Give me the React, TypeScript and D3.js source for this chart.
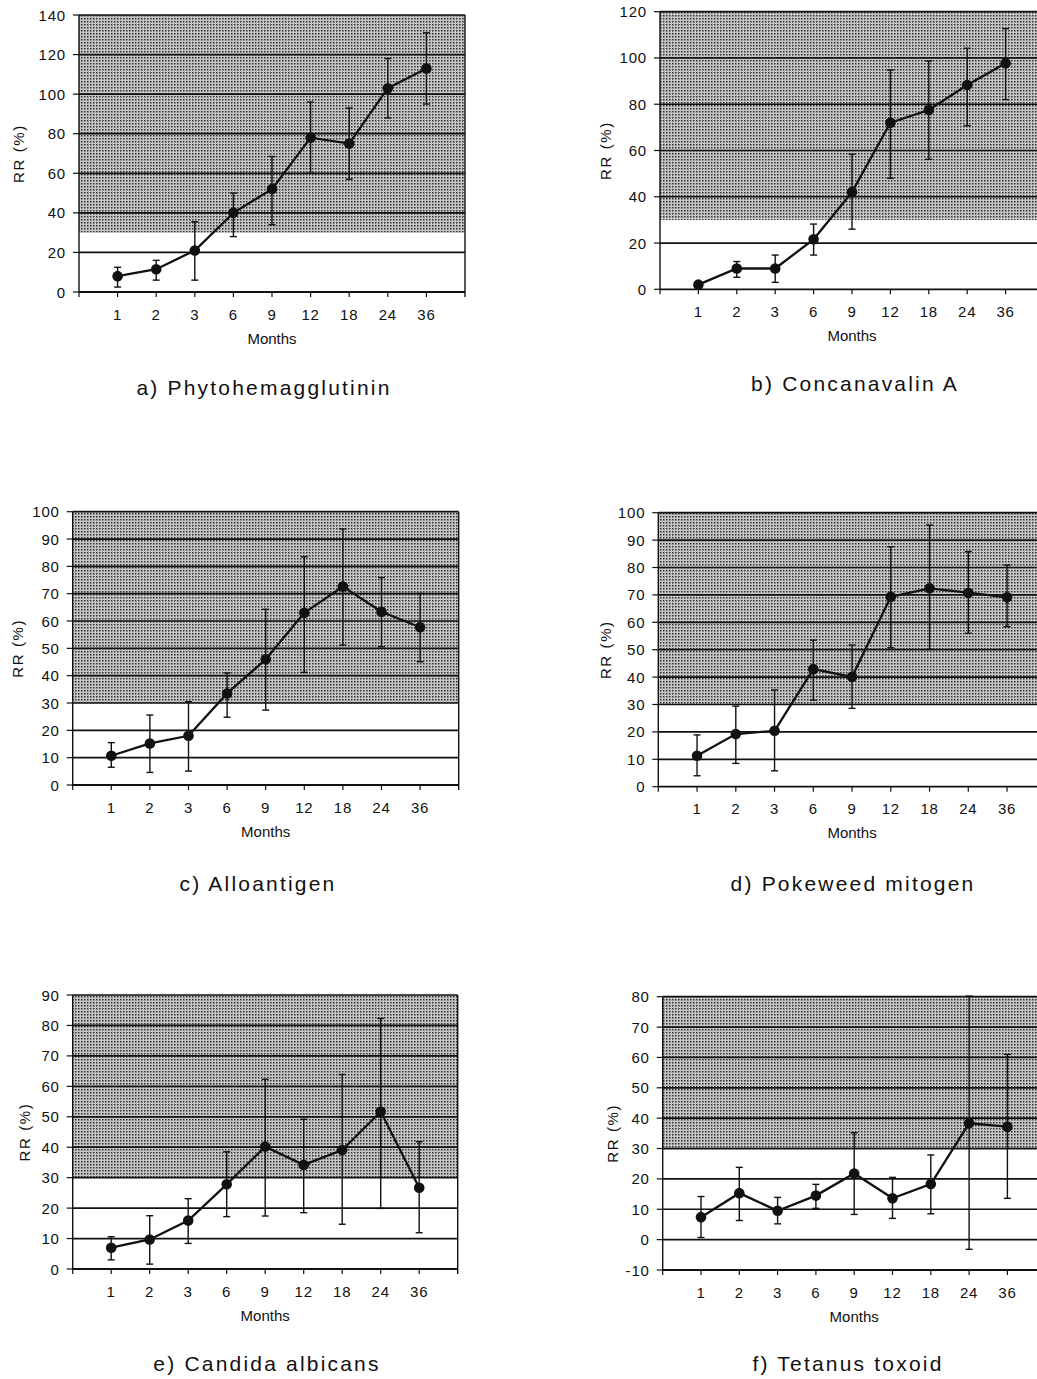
import * as d3 from 'd3';

// months after transplantation (x categories)
const months = ['1', '2', '3', '6', '9', '12', '18', '24', '36'];

// a) Phytohemagglutinin
const phaMean = [8, 11.5, 21, 40, 52, 78, 75, 103, 113];
const phaLow = [2.5, 6, 6, 28, 34, 60, 57, 88, 95];
const phaHigh = [12.5, 16, 35.5, 50, 68.5, 96, 93, 118, 131];
const phaTicks = [0, 20, 40, 60, 80, 100, 120, 140];

// b) Concanavalin A
const conMean = [2, 9, 9, 21.6, 42, 72, 77.5, 88.3, 97.7];
const conLow = [1, 5.2, 3, 14.8, 26, 48, 56.2, 70.7, 82];
const conHigh = [3, 12, 14.8, 28.2, 58.4, 94.8, 98.7, 104.2, 112.7];
const conTicks = [0, 20, 40, 60, 80, 100, 120];

// c) Alloantigen
const alloMean = [10.7, 15.2, 18, 33.5, 46, 63, 72.6, 63.4, 57.7];
const alloLow = [6.5, 4.6, 5.1, 24.8, 27.4, 41.2, 51.2, 50.6, 45.1];
const alloHigh = [15.5, 25.6, 30.5, 41, 64.3, 83.5, 93.7, 75.9, 70.1];
const alloTicks = [0, 10, 20, 30, 40, 50, 60, 70, 80, 90, 100];

// d) Pokeweed mitogen
const pwmMean = [11.3, 19.2, 20.4, 42.9, 40.1, 69.3, 72.4, 70.8, 69.1];
const pwmLow = [4, 8.5, 5.8, 31.6, 28.6, 50.7, 50.1, 56, 58.4];
const pwmHigh = [18.9, 29.4, 35.3, 53.5, 51.7, 87.6, 95.5, 85.8, 80.9];
const pwmTicks = [0, 10, 20, 30, 40, 50, 60, 70, 80, 90, 100];

// e) Candida albicans
const candMean = [7, 9.7, 15.9, 27.8, 40.2, 34.2, 39.1, 51.7, 26.7];
const candLow = [3, 1.6, 8.4, 17.2, 17.4, 18.5, 14.7, 19.9, 11.9];
const candHigh = [10.6, 17.5, 23.1, 38.5, 62.3, 49.2, 63.9, 82.3, 41.8];
const candTicks = [0, 10, 20, 30, 40, 50, 60, 70, 80, 90];

// f) Tetanus toxoid
const tetMean = [7.4, 15.3, 9.5, 14.5, 21.8, 13.6, 18.3, 38.3, 37.2];
const tetLow = [0.7, 6.3, 5.2, 10.3, 8.3, 7, 8.5, -3.2, 13.6];
const tetHigh = [14.2, 23.8, 13.9, 18.2, 35.2, 20.5, 27.9, 80.2, 61];
const tetTicks = [-10, 0, 10, 20, 30, 40, 50, 60, 70, 80];

const SHADE_FROM = 30;
const FONT = '"Liberation Sans", Arial, Helvetica, sans-serif';

type PanelProps = {
  left: number; top: number; bottom: number; step: number;
  ticks: number[]; mean: number[]; low: number[]; high: number[];
  title: string; titleX: number; titleY: number; labelOff: number;
};

function Panel(p: PanelProps) {
  const right = p.left + p.step * 10;
  const x = d3.scalePoint<string>().domain(months).range([p.left, right]).padding(1);
  const y = d3.scaleLinear()
    .domain([p.ticks[0], p.ticks[p.ticks.length - 1]])
    .range([p.bottom, p.top]);
  const line = d3.line<number>()
    .x((d, i) => x(months[i])!)
    .y((d) => y(d));
  const midX = p.left + p.step * 5;
  const midY = (p.top + p.bottom) / 2;

  return (
    <g>
      {/* shaded normal range */}
      <rect x={p.left} y={p.top} width={right - p.left} height={y(SHADE_FROM) - p.top}
        fill="url(#stipple)" />
      {/* grid lines */}
      {p.ticks.slice(1).map((t) => (
        <line key={t} x1={p.left} x2={right} y1={y(t)} y2={y(t)} stroke="#111" strokeWidth={1.7} />
      ))}
      {/* axes & frame */}
      <line x1={p.left} x2={right} y1={p.bottom} y2={p.bottom} stroke="#111" strokeWidth={1.8} />
      <line x1={p.left} x2={p.left} y1={p.top} y2={p.bottom} stroke="#111" strokeWidth={1.4} />
      <line x1={right} x2={right} y1={p.top} y2={p.bottom + 5} stroke="#111" strokeWidth={1.4} />
      {p.ticks.map((t) => (
        <g key={'yt' + t}>
          <line x1={p.left - 6} x2={p.left} y1={y(t)} y2={y(t)} stroke="#111" strokeWidth={1.2} />
          <text x={p.left - 13} y={y(t)} textAnchor="end" dominantBaseline="central"
            fontSize={15} letterSpacing={0.8} fontFamily={FONT} fill="#111">{t}</text>
        </g>
      ))}
      <line x1={p.left} x2={p.left} y1={p.bottom} y2={p.bottom + 5} stroke="#111" strokeWidth={1.2} />
      {months.map((m) => (
        <g key={'xt' + m}>
          <line x1={x(m)} x2={x(m)} y1={p.bottom} y2={p.bottom + 5} stroke="#111" strokeWidth={1.2} />
          <text x={x(m)} y={p.bottom + 22} textAnchor="middle" dominantBaseline="central"
            fontSize={15} letterSpacing={0.8} fontFamily={FONT} fill="#111">{m}</text>
        </g>
      ))}
      <text x={midX} y={p.bottom + 46} textAnchor="middle" dominantBaseline="central"
        fontSize={15} fontFamily={FONT} fill="#111">Months</text>
      <text transform={`translate(${p.left + p.labelOff},${midY}) rotate(-90)`} textAnchor="middle"
        dominantBaseline="central" fontSize={15} letterSpacing={1.6} fontFamily={FONT} fill="#111">RR (%)</text>
      {/* error bars */}
      {months.map((m, i) => (
        <g key={'eb' + m} stroke="#111" strokeWidth={1.4}>
          <line x1={x(m)} x2={x(m)} y1={y(p.low[i])} y2={y(p.high[i])} />
          <line x1={x(m)! - 3.5} x2={x(m)! + 3.5} y1={y(p.low[i])} y2={y(p.low[i])} />
          <line x1={x(m)! - 3.5} x2={x(m)! + 3.5} y1={y(p.high[i])} y2={y(p.high[i])} />
        </g>
      ))}
      <path d={line(p.mean)!} fill="none" stroke="#111" strokeWidth={2.3} />
      {p.mean.map((v, i) => (
        <circle key={'pt' + i} cx={x(months[i])} cy={y(v)} r={5.3} fill="#111" />
      ))}
      <text x={p.titleX} y={p.titleY} textAnchor="middle" dominantBaseline="central"
        fontSize={21} letterSpacing={2.2} fontFamily={FONT} fill="#111">{p.title}</text>
    </g>
  );
}

export default function App() {
  return (
    <svg width={1037} height={1379} style={{ display: 'block', position: 'absolute', left: 0, top: 0 }}>
      <defs>
        <pattern id="stipple" width={3} height={3} patternUnits="userSpaceOnUse">
          <rect width={3} height={3} fill="#c6c6c6" />
          <rect width={1.5} height={1.5} fill="#2e2e2e" />
        </pattern>
      </defs>
      <rect width={1037} height={1379} fill="#fff" />
      <Panel left={79} top={15} bottom={292} step={38.6} ticks={phaTicks}
        mean={phaMean} low={phaLow} high={phaHigh} title="a) Phytohemagglutinin"
        titleX={264} titleY={387} labelOff={-61} />
      <Panel left={660} top={11.7} bottom={289.3} step={38.4} ticks={conTicks}
        mean={conMean} low={conLow} high={conHigh} title="b) Concanavalin A"
        titleX={855} titleY={383} labelOff={-55} />
      <Panel left={72.7} top={511.7} bottom={785} step={38.6} ticks={alloTicks}
        mean={alloMean} low={alloLow} high={alloHigh} title="c) Alloantigen"
        titleX={258} titleY={883} labelOff={-55} />
      <Panel left={658.3} top={512.7} bottom={786.7} step={38.75} ticks={pwmTicks}
        mean={pwmMean} low={pwmLow} high={pwmHigh} title="d) Pokeweed mitogen"
        titleX={853} titleY={883} labelOff={-53} />
      <Panel left={72.7} top={995} bottom={1269} step={38.5} ticks={candTicks}
        mean={candMean} low={candLow} high={candHigh} title="e) Candida albicans"
        titleX={267} titleY={1363} labelOff={-48} />
      <Panel left={662.7} top={996.7} bottom={1270} step={38.3} ticks={tetTicks}
        mean={tetMean} low={tetLow} high={tetHigh} title="f) Tetanus toxoid"
        titleX={848} titleY={1363} labelOff={-50} />
    </svg>
  );
}
